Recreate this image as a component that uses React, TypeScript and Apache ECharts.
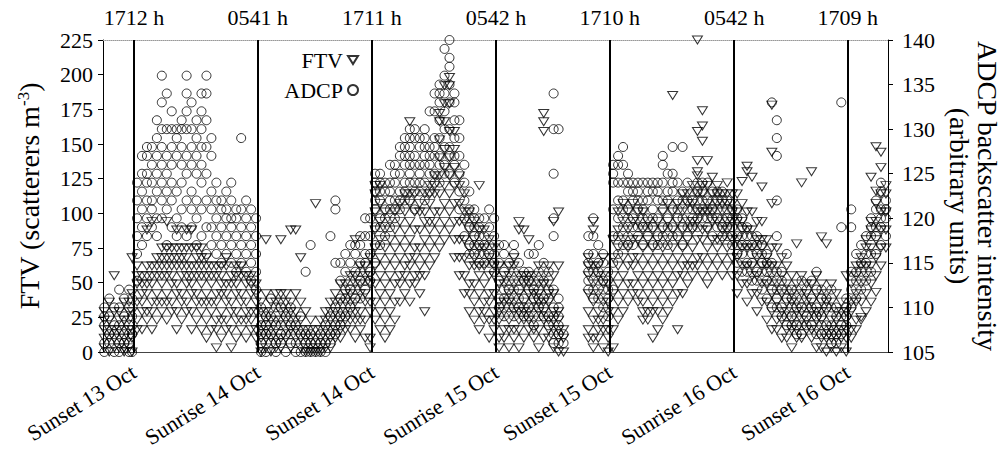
import React, { useEffect, useRef } from "react";
import * as echarts from "echarts";

type Col = [number, number[]];

// Event times (hours since 00:00 on 13 Oct)
const eventHours = [17.2, 29.683, 41.183, 53.7, 65.167, 77.7, 89.15];
const bottomLabels = ["Sunset 13 Oct", "Sunrise 14 Oct", "Sunset 14 Oct", "Sunrise 15 Oct", "Sunset 15 Oct", "Sunrise 16 Oct", "Sunset 16 Oct"];
const topLabels = ["1712 h", "0541 h", "1711 h", "0542 h", "1710 h", "0542 h", "1709 h"];

// FTV (scatterers m^-3): [hour, values]
const ftvAfternoon13: Col[] = [
  [14.2, [3, 10, 16, 23, 29]], [14.7, [0, 10, 16, 23, 36]], [15.2, [3, 10, 16, 29, 55]],
  [15.7, [3, 10, 16, 23, 29]], [16.2, [0, 3, 10, 16, 23, 36]], [16.7, [3, 10, 16, 23, 29, 36]],
  [17.0, [0, 10, 16, 29, 42, 68]],
];
const ftvNight13: Col[] = [
  [17.5, [16, 23, 36, 49, 55, 62]], [18.0, [16, 29, 36, 42, 49, 55]], [18.5, [23, 29, 42, 49, 55, 62, 88]],
  [19.0, [16, 29, 36, 49, 55, 62, 94]], [19.5, [23, 36, 42, 55, 62, 68]], [20.0, [29, 36, 49, 55, 62, 68, 75]],
  [20.5, [23, 36, 42, 55, 62, 68, 75, 94]], [21.0, [29, 36, 49, 55, 62, 68, 75]], [21.5, [16, 29, 42, 49, 62, 68, 75, 88]],
  [22.0, [23, 36, 42, 55, 62, 68, 75]], [22.5, [29, 36, 49, 55, 62, 68, 75, 88]], [23.0, [16, 29, 42, 49, 55, 62, 75, 88]],
  [23.5, [23, 36, 42, 55, 62, 68, 75]], [24.0, [16, 29, 36, 49, 55, 62, 68, 75]], [24.5, [10, 23, 36, 42, 55, 62, 68]],
  [25.0, [16, 29, 36, 49, 55, 62]], [25.5, [3, 16, 23, 36, 42, 55, 62]], [26.0, [10, 23, 29, 42, 49, 55, 62]],
  [26.5, [16, 23, 36, 42, 49, 62, 68]], [27.0, [3, 16, 29, 36, 49, 55]], [27.5, [10, 23, 29, 42, 49, 55, 62]],
  [28.0, [16, 23, 36, 42, 55, 62]], [28.5, [10, 23, 29, 36, 49, 55]], [29.0, [16, 23, 29, 42, 49, 55]],
  [29.5, [10, 16, 29, 36, 42, 49]],
];
const ftvDay14: Col[] = [
  [30.0, [0, 3, 10, 16, 23, 29, 36]], [30.5, [3, 10, 16, 23, 29, 42, 81]], [31.0, [0, 10, 16, 23, 29, 36]],
  [31.5, [3, 10, 16, 23, 36, 42]], [32.0, [3, 10, 23, 29, 36, 42, 81]], [32.5, [10, 16, 23, 29, 36, 42]],
  [33.0, [3, 16, 23, 29, 36, 88]], [33.5, [10, 16, 23, 29, 42, 88]], [34.0, [3, 10, 16, 23, 36, 68]],
  [34.5, [0, 3, 10, 16, 29]], [35.0, [0, 3, 10, 16, 23]], [35.5, [0, 3, 10, 16, 107]],
  [36.0, [0, 3, 10, 16, 23]], [36.5, [3, 10, 16, 23, 29]], [37.0, [3, 10, 16, 23, 29, 36]],
  [37.5, [10, 16, 23, 29, 36, 42]], [38.0, [10, 16, 23, 29, 36, 49]], [38.5, [16, 23, 29, 36, 42, 49]],
  [39.0, [16, 23, 29, 36, 42, 55]], [39.5, [10, 23, 29, 36, 49, 55, 81]], [40.0, [16, 23, 29, 42, 49, 62]],
  [40.5, [10, 23, 36, 42, 55, 62]], [41.0, [3, 10, 29, 36, 49, 55, 68]],
];
const ftvNight14: Col[] = [
  [41.5, [23, 36, 49, 62, 75, 88, 101, 114, 120]], [42.0, [16, 29, 42, 55, 68, 81, 94, 107, 120]],
  [42.5, [10, 23, 36, 49, 62, 75, 88, 101]], [43.0, [16, 29, 42, 55, 68, 81, 94]],
  [43.5, [23, 36, 49, 62, 75, 88, 101]], [44.0, [36, 49, 55, 68, 81, 94, 107]],
  [44.5, [42, 55, 62, 75, 88, 101, 114]], [45.0, [36, 49, 62, 68, 81, 94, 107, 114, 166]],
  [45.5, [49, 55, 68, 75, 88, 101, 114]], [46.0, [42, 55, 62, 75, 88, 101, 107]],
  [46.5, [29, 55, 68, 81, 94, 101, 114]], [47.0, [62, 75, 88, 94, 107, 114, 120]],
  [47.5, [68, 81, 94, 101, 114, 120, 127]], [48.0, [75, 88, 101, 114, 127, 140, 153, 166, 172]],
  [48.5, [81, 94, 107, 120, 133, 146, 166, 179, 192]], [49.0, [88, 101, 114, 127, 140, 159, 179, 192, 198]],
  [49.5, [68, 81, 94, 107, 120, 133, 146, 159]], [50.0, [55, 68, 81, 94, 107, 120, 127]],
  [50.5, [42, 55, 68, 81, 94, 101, 114]], [51.0, [29, 42, 49, 62, 75, 88, 101]],
  [51.5, [23, 36, 49, 62, 68, 81, 94]], [52.0, [16, 29, 42, 55, 62, 75, 88, 120]],
  [52.5, [23, 29, 36, 49, 62, 75, 88]], [53.0, [10, 23, 36, 42, 55, 68, 81]],
  [53.5, [16, 23, 29, 42, 55, 62, 75]],
];
const ftvDay15: Col[] = [
  [54.0, [3, 10, 23, 29, 36, 49, 62]], [54.5, [10, 16, 29, 36, 49, 55]], [55.0, [3, 16, 23, 36, 42, 55, 62]],
  [55.5, [10, 16, 29, 36, 49, 62, 68]], [56.0, [3, 16, 23, 29, 42, 55, 88, 94]], [56.5, [10, 23, 29, 36, 49, 55, 88]],
  [57.0, [16, 23, 29, 42, 49, 55, 81]], [57.5, [10, 16, 23, 36, 42, 55]], [58.0, [3, 16, 29, 36, 42, 49, 62]],
  [58.5, [10, 23, 29, 36, 49, 55, 159, 166, 172]], [59.0, [10, 16, 23, 36, 42, 49, 62]],
  [59.5, [3, 16, 23, 29, 42, 55, 94]], [60.0, [0, 10, 16, 23, 29, 62, 101]], [60.5, [0, 10, 16]],
  [63.0, [10, 16, 29, 42, 55, 62, 68]], [63.5, [3, 10, 23, 36, 49, 62, 88, 94]],
  [64.0, [10, 16, 23, 29, 42, 55, 62]], [64.5, [3, 16, 23, 36, 49, 55, 68]], [65.0, [0, 10, 16, 29, 36, 49]],
];
const ftvNight15: Col[] = [
  [65.5, [3, 16, 29, 42, 55, 68, 81]], [66.0, [23, 36, 49, 62, 75, 88, 101]], [66.5, [29, 42, 55, 68, 81, 94, 107]],
  [67.0, [36, 49, 62, 75, 88, 101]], [67.5, [42, 49, 62, 68, 81, 94, 107]], [68.0, [36, 42, 55, 68, 81, 94, 101]],
  [68.5, [23, 29, 36, 49, 62, 75, 88, 101]], [69.0, [23, 29, 42, 55, 68, 81, 94]], [69.5, [10, 29, 36, 49, 62, 75, 88]],
  [70.0, [16, 29, 42, 55, 68, 81, 94]], [70.5, [23, 36, 49, 62, 75, 88, 101]], [71.0, [29, 42, 55, 68, 81, 94, 107]],
  [71.5, [36, 49, 62, 75, 88, 101, 185]], [72.0, [16, 42, 55, 68, 81, 94, 107]], [72.5, [42, 55, 62, 75, 88, 101, 114]],
  [73.0, [49, 62, 68, 81, 94, 107, 114]], [73.5, [55, 62, 75, 88, 94, 107, 120]],
  [74.0, [62, 68, 81, 94, 101, 114, 127, 130, 138, 159, 225]], [74.5, [55, 68, 81, 88, 101, 114, 120, 152, 163, 174]],
  [75.0, [49, 62, 75, 88, 101, 107, 120, 138]], [75.5, [55, 68, 81, 94, 101, 114, 126]],
  [76.0, [62, 75, 81, 94, 107, 114, 120]], [76.5, [55, 68, 81, 88, 101, 107, 114]],
  [77.0, [62, 75, 88, 94, 107, 114, 122]], [77.5, [55, 68, 81, 94, 101, 107, 114]],
];
const ftvDay16: Col[] = [
  [78.0, [42, 55, 68, 81, 94, 101, 114]], [78.5, [49, 62, 75, 88, 94, 107, 123]], [79.0, [36, 49, 62, 75, 88, 101, 130, 134]],
  [79.5, [42, 55, 62, 75, 88, 101, 126]], [80.0, [29, 42, 55, 68, 81, 94]], [80.5, [36, 49, 62, 75, 81, 94, 119]],
  [81.0, [23, 36, 49, 62, 68, 81]], [81.5, [16, 29, 42, 55, 62, 75, 107, 144, 178]], [82.0, [16, 23, 36, 49, 62, 75]],
  [82.5, [10, 23, 29, 42, 55, 68]], [83.0, [10, 16, 29, 36, 49, 62]], [83.5, [3, 16, 23, 36, 42, 55]],
  [84.0, [10, 16, 29, 36, 49, 78]], [84.5, [10, 23, 29, 42, 55, 122]], [85.0, [16, 23, 36, 42, 49]],
  [85.5, [10, 16, 29, 36, 49, 130]], [86.0, [3, 16, 23, 29, 42, 55]], [86.5, [3, 10, 23, 29, 36, 49, 83]],
  [87.0, [0, 10, 16, 29, 36, 42, 78]], [87.5, [3, 10, 16, 23, 36, 49]], [88.0, [0, 10, 16, 23, 29, 42]],
  [88.5, [3, 10, 16, 29, 36]], [89.0, [0, 10, 16, 23, 29, 55]],
];
const ftvEvening16: Col[] = [
  [89.5, [10, 16, 29, 36, 49]], [90.0, [16, 23, 36, 42, 55, 62]], [90.5, [23, 25, 36, 49, 62, 68]],
  [91.0, [29, 42, 55, 62, 75, 81]], [91.5, [36, 49, 62, 75, 88, 94, 126]], [92.0, [43, 55, 68, 81, 94, 107, 116, 148]],
  [92.5, [62, 75, 88, 101, 114, 133, 144]], [93.0, [75, 88, 101, 114, 120]],
];

// ADCP backscatter intensity (arbitrary units): [hour, values]
const adcpAfternoon13: Col[] = [
  [14.2, [105, 106, 108, 109, 110]], [14.7, [106, 107, 109, 111]], [15.2, [105, 107, 108, 110]],
  [15.7, [105, 106, 108, 110, 112]], [16.2, [106, 107, 109, 111]], [16.7, [105, 106, 108, 110, 112]],
  [17.0, [105, 107, 109, 111]],
];
const adcpNight13: Col[] = [
  [17.5, [113, 116, 118, 120, 122, 124]], [18.0, [117, 119, 121, 123, 125, 127]], [18.5, [118, 120, 122, 124, 125, 127, 128]],
  [19.0, [119, 121, 122, 124, 126, 128]], [19.5, [118, 120, 123, 125, 127, 129, 131]], [20.0, [120, 122, 124, 126, 128, 130, 133, 136]],
  [20.5, [117, 121, 123, 125, 127, 130, 134]], [21.0, [119, 122, 124, 126, 128, 130, 132]], [21.5, [118, 120, 123, 127, 129, 130]],
  [22.0, [119, 121, 124, 126, 128, 130, 131]], [22.5, [118, 122, 125, 127, 130, 132, 134, 136]], [23.0, [119, 121, 123, 126, 128, 130, 133]],
  [23.5, [117, 120, 122, 125, 127, 129, 131]], [24.0, [118, 121, 124, 126, 128, 130, 132, 134]], [24.5, [116, 119, 122, 125, 128, 131, 134, 136]],
  [25.0, [117, 119, 121, 123, 127, 129]], [25.5, [116, 118, 120, 122, 124]], [26.0, [115, 117, 119, 121, 122]],
  [26.5, [116, 118, 120, 121, 123]], [27.0, [115, 117, 119, 120, 122, 124]], [27.5, [114, 116, 118, 120, 121]],
  [28.0, [115, 117, 119, 121, 129]], [28.5, [114, 116, 118, 120, 122]], [29.0, [113, 115, 117, 119, 121]],
  [29.5, [112, 114, 116, 118, 120]],
];
const adcpDay14: Col[] = [
  [30.0, [105, 106, 107, 108, 110]], [30.5, [105, 107, 108, 109]], [31.0, [106, 107, 109, 111]],
  [31.5, [105, 106, 108, 110]], [32.0, [106, 107, 108, 110]], [32.5, [105, 107, 109]],
  [33.0, [106, 107, 108, 110]], [33.5, [105, 106, 108]], [34.0, [105, 107, 109]],
  [34.5, [105, 106, 107, 114]], [35.0, [105, 106, 107, 117]], [35.5, [105, 106]],
  [36.0, [105, 106, 107]], [36.5, [105, 106, 108]], [37.0, [106, 107, 109, 118]],
  [37.5, [107, 108, 110, 115, 121, 122]], [38.0, [108, 109, 111, 113, 115]], [38.5, [109, 111, 112, 114, 116]],
  [39.0, [110, 112, 113, 115, 117]], [39.5, [111, 112, 114, 116, 117]], [40.0, [111, 113, 114, 115, 117, 118]],
  [40.5, [112, 113, 115, 116, 118, 120]], [41.0, [113, 114, 116, 118, 120]],
];
const adcpNight14: Col[] = [
  [41.5, [115, 117, 119, 121, 122, 123, 124, 125]], [42.0, [117, 119, 120, 122, 123, 124, 125]],
  [42.5, [118, 120, 121, 123, 124]], [43.0, [119, 121, 122, 123, 124, 126]],
  [43.5, [120, 121, 122, 124, 125, 126]], [44.0, [121, 122, 123, 125, 127, 128]],
  [44.5, [122, 123, 124, 126, 127, 128, 129]], [45.0, [122, 124, 125, 126, 127, 128, 129, 130]],
  [45.5, [121, 123, 124, 126, 127, 129, 130]], [46.0, [123, 124, 125, 126, 128, 129]],
  [46.5, [122, 124, 126, 127, 128, 129, 130]], [47.0, [123, 125, 126, 127, 128, 132]],
  [47.5, [124, 125, 127, 128, 129, 132, 134]], [48.0, [124, 126, 127, 129, 131, 133, 134, 135]],
  [48.5, [125, 126, 128, 130, 132, 134, 136, 139]], [49.0, [125, 127, 128, 130, 133, 135, 137, 138, 140]],
  [49.5, [124, 126, 127, 129, 131, 133, 134]], [50.0, [121, 123, 125, 127, 129, 131]],
  [50.5, [118, 120, 122, 124, 126]], [51.0, [116, 117, 119, 120, 121, 123]],
  [51.5, [116, 117, 118, 119, 120, 121]], [52.0, [115, 116, 117, 118, 119, 120]],
  [52.5, [115, 116, 117, 118, 120]], [53.0, [115, 116, 117, 119, 121]], [53.5, [114, 115, 116, 118, 120]],
];
const adcpDay15: Col[] = [
  [54.0, [110, 111, 113, 115, 117]], [54.5, [109, 111, 112, 114, 116, 117]], [55.0, [110, 111, 112, 113, 115]],
  [55.5, [109, 110, 112, 114, 116, 117]], [56.0, [110, 111, 112, 113, 115]], [56.5, [109, 110, 111, 113, 114]],
  [57.0, [109, 110, 112, 113, 114, 116]], [57.5, [108, 110, 111, 112, 113, 116]], [58.0, [109, 110, 111, 112, 114, 117]],
  [58.5, [109, 110, 111, 113, 115]], [59.0, [108, 109, 111, 112, 114]],
  [59.5, [106, 107, 109, 110, 112, 118, 120, 125, 130, 134]], [60.0, [106, 107, 108, 109, 110, 111, 130]],
  [60.5, [106, 107]], [63.0, [112, 113, 114, 115, 116, 118]], [63.5, [111, 112, 114, 116, 118, 120]],
  [64.0, [111, 113, 114, 115, 117]], [64.5, [110, 112, 113, 115, 116]], [65.0, [109, 111, 112, 114]],
];
const adcpNight15: Col[] = [
  [65.5, [112, 115, 118, 121, 124, 125, 126]], [66.0, [116, 118, 120, 122, 124, 126, 127]],
  [66.5, [117, 119, 121, 122, 124, 126, 128]], [67.0, [117, 118, 120, 121, 123, 124, 125]],
  [67.5, [117, 119, 120, 122, 123, 124]], [68.0, [118, 119, 121, 122, 123, 124]],
  [68.5, [117, 119, 120, 121, 122, 124]], [69.0, [118, 119, 120, 122, 123, 124]],
  [69.5, [117, 119, 120, 121, 123, 124]], [70.0, [117, 118, 120, 122, 123, 124]],
  [70.5, [118, 119, 121, 122, 124, 126, 127]], [71.0, [117, 119, 120, 122, 123, 125]],
  [71.5, [118, 119, 121, 123, 124, 125, 128]], [72.0, [118, 120, 121, 122, 124]],
  [72.5, [117, 119, 120, 122, 123, 128]], [73.0, [118, 119, 121, 122, 124]],
  [73.5, [119, 120, 121, 122, 123]], [74.0, [119, 120, 121, 122, 123, 124]],
  [74.5, [120, 121, 122, 123, 124]], [75.0, [119, 120, 121, 122, 124]],
  [75.5, [118, 120, 121, 122, 123]], [76.0, [119, 120, 121, 122, 123]],
  [76.5, [118, 119, 120, 122, 123]], [77.0, [118, 119, 120, 121, 122]], [77.5, [117, 118, 119, 120, 121]],
];
const adcpDay16: Col[] = [
  [78.0, [115, 116, 117, 118, 120, 121]], [78.5, [114, 116, 117, 118, 119, 120]], [79.0, [114, 115, 117, 118, 119]],
  [79.5, [113, 115, 116, 117, 118]], [80.0, [113, 114, 116, 117, 118]], [80.5, [112, 114, 115, 116, 117]],
  [81.0, [111, 113, 114, 115, 116]], [81.5, [110, 112, 113, 115, 133]], [82.0, [110, 111, 112, 114, 118, 122, 127, 129, 131]],
  [82.5, [109, 110, 112, 113, 114]], [83.0, [108, 109, 111, 112, 116]], [83.5, [108, 109, 110, 111, 112]],
  [84.0, [107, 108, 109, 110, 112]], [84.5, [107, 108, 110, 111, 113]], [85.0, [108, 109, 110, 112]],
  [85.5, [108, 109, 110, 111, 113]], [86.0, [107, 109, 110, 112, 114]], [86.5, [107, 108, 109, 111, 112]],
  [87.0, [107, 108, 110, 111]], [87.5, [106, 107, 108, 110, 112]], [88.0, [106, 107, 109, 110]],
  [88.5, [107, 108, 109, 119, 133]], [89.0, [108, 109, 110, 111]],
];
const adcpEvening16: Col[] = [
  [89.5, [110, 112, 114, 119, 121]], [90.0, [111, 113, 114, 116]], [90.5, [112, 114, 115, 117]],
  [91.0, [113, 115, 116, 118]], [91.5, [114, 116, 118, 119, 120]], [92.0, [116, 118, 119, 121, 122]],
  [92.5, [117, 119, 120, 121, 123, 124]], [93.0, [118, 120, 121, 122]],
];

const ftvPeriods = [ftvAfternoon13, ftvNight13, ftvDay14, ftvNight14, ftvDay15, ftvNight15, ftvDay16, ftvEvening16];
const adcpPeriods = [adcpAfternoon13, adcpNight13, adcpDay14, adcpNight14, adcpDay15, adcpNight15, adcpDay16, adcpEvening16];

const flatten = (periods: Col[][]) =>
  periods.flatMap((cols) => cols.flatMap(([h, vs]) => vs.map((v) => [h, v])));

const FONT = "Liberation Serif";
const TRI = "path://M0,0L10,0L5,8Z";

const labelFor = (list: string[]) => (v: number) => {
  const i = eventHours.findIndex((e) => Math.abs(e - v) < 0.01);
  return i >= 0 ? list[i] : "";
};

export default function App() {
  const ref = useRef<HTMLDivElement>(null);
  useEffect(() => {
    if (!ref.current) return;
    const chart = echarts.init(ref.current, undefined, { renderer: "svg" });
    const xMin = 14.07;
    const xMax = 93.21;
    chart.setOption({
      animation: false,
      backgroundColor: "#fff",
      textStyle: { fontFamily: FONT, color: "#000" },
      grid: { left: 103, right: 115, top: 40, bottom: 102, outerBoundsMode: "none", containLabel: false },
      legend: {
        orient: "vertical",
        align: "right",
        right: 639,
        top: 44,
        itemGap: 8,
        itemWidth: 10,
        itemHeight: 10,
        textStyle: { fontFamily: FONT, fontSize: 22, color: "#000" },
        data: ["FTV", "ADCP"],
      },
      xAxis: [
        {
          type: "value",
          position: "bottom",
          min: xMin,
          max: xMax,
          axisLine: { show: true, lineStyle: { color: "#444", width: 1 } },
          axisTick: { show: false },
          splitLine: { show: false },
          axisLabel: {
            customValues: eventHours,
            formatter: labelFor(bottomLabels),
            rotate: 32,
            margin: 18,
            fontFamily: FONT,
            fontSize: 22,
            color: "#000",
          },
        },
        {
          type: "value",
          position: "top",
          min: xMin,
          max: xMax,
          axisLine: { show: true, lineStyle: { color: "#999", width: 1, type: "dotted" } },
          axisTick: { show: false },
          splitLine: { show: false },
          axisLabel: {
            customValues: eventHours,
            formatter: labelFor(topLabels),
            margin: 12,
            fontFamily: FONT,
            fontSize: 22,
            color: "#000",
          },
        },
      ],
      yAxis: [
        {
          type: "value",
          position: "left",
          min: 0,
          max: 225,
          interval: 25,
          name: "FTV (scatterers m{sup|-3})",
          nameLocation: "middle",
          nameGap: 60,
          nameRotate: 90,
          nameTextStyle: {
            fontFamily: FONT,
            fontSize: 28,
            color: "#000",
            rich: { sup: { fontFamily: FONT, fontSize: 17, color: "#000", verticalAlign: "top", lineHeight: 17 } },
          },
          axisLine: { show: true, lineStyle: { color: "#000", width: 1 } },
          axisTick: { show: true, length: 5, lineStyle: { color: "#000" } },
          splitLine: { show: false },
          axisLabel: { fontFamily: FONT, fontSize: 22, color: "#000", margin: 10 },
        },
        {
          type: "value",
          position: "right",
          min: 105,
          max: 140,
          interval: 5,
          name: "ADCP backscatter intensity\n(arbitrary units)",
          nameLocation: "middle",
          nameGap: 57,
          nameRotate: -90,
          nameTextStyle: { fontFamily: FONT, fontSize: 28, color: "#000", lineHeight: 28 },
          axisLine: { show: true, lineStyle: { color: "#000", width: 1 } },
          axisTick: { show: true, length: 5, lineStyle: { color: "#000" } },
          splitLine: { show: false },
          axisLabel: { fontFamily: FONT, fontSize: 22, color: "#000", margin: 14 },
        },
      ],
      series: [
        {
          name: "FTV",
          type: "scatter",
          xAxisIndex: 0,
          yAxisIndex: 0,
          symbol: TRI,
          symbolSize: [10, 8],
          itemStyle: { color: "rgba(0,0,0,0)", borderColor: "#000", borderWidth: 1 },
          data: flatten(ftvPeriods),
          markLine: {
            silent: true,
            symbol: ["none", "none"],
            label: { show: false },
            lineStyle: { color: "#000", width: 2, type: "solid" },
            data: eventHours.map((h) => ({ xAxis: h })),
          },
        },
        {
          name: "ADCP",
          type: "scatter",
          xAxisIndex: 0,
          yAxisIndex: 1,
          symbol: "circle",
          symbolSize: 9,
          itemStyle: { color: "rgba(0,0,0,0)", borderColor: "#000", borderWidth: 1 },
          data: flatten(adcpPeriods),
        },
      ],
    });
    return () => chart.dispose();
  }, []);
  return <div ref={ref} style={{ width: 1003, height: 454, position: "absolute", left: 0, top: 0 }} />;
}
